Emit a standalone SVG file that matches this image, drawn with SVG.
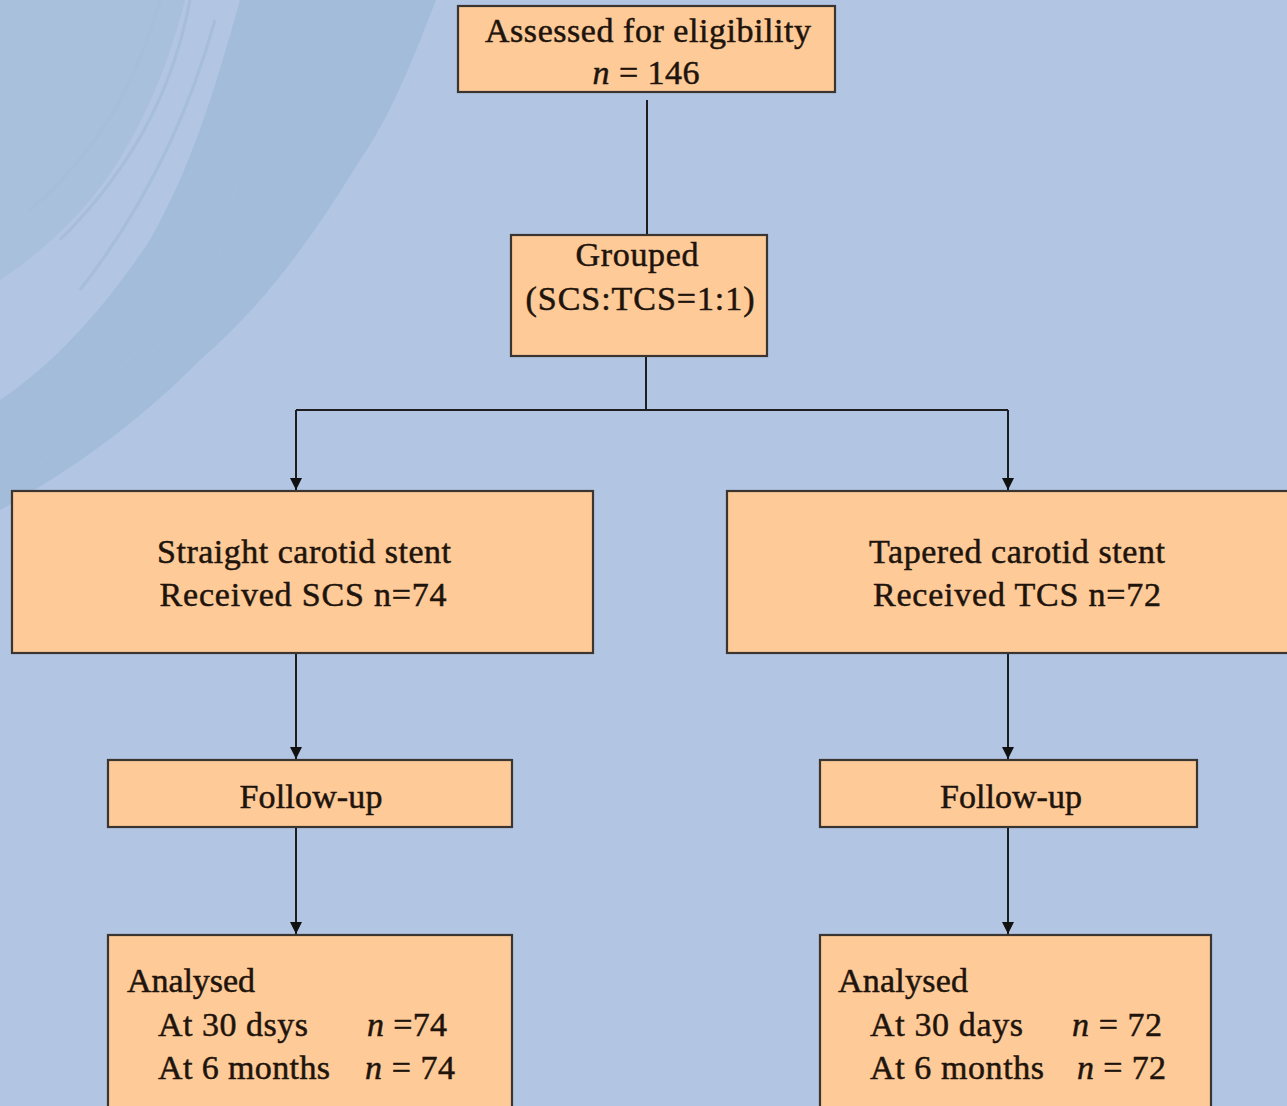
<svg xmlns="http://www.w3.org/2000/svg" width="1287" height="1106" viewBox="0 0 1287 1106">
<defs>
<style>
.box{fill:#FDCA98;stroke:#3a3530;stroke-width:2.2}
.t{font-family:'Liberation Serif','Times New Roman',serif;font-size:34px;fill:#1e140c;stroke:#1e140c;stroke-width:0.5}
.c{text-anchor:middle}
.i{font-style:italic}
.ln{fill:none;stroke:#1e1e22;stroke-width:2}
</style>
<marker id="ah" viewBox="0 0 10 10" refX="10" refY="5" markerWidth="12" markerHeight="12" markerUnits="userSpaceOnUse" orient="auto">
<path d="M0,0 L10,5 L0,10 Z" fill="#111"/>
</marker>
</defs>
<rect x="0" y="0" width="1287" height="1106" fill="#B2C5E3"/>
<g id="background-brush">
<path d="M240,0 L436,0 C420,40 395,110 360,160 C320,225 270,300 200,360 C150,410 90,460 0,510 L0,400 C60,360 110,300 150,240 C190,170 215,90 240,0 Z" fill="#A2BCD9"/>
<path d="M0,0 L185,0 C170,60 140,140 90,200 C60,235 30,260 0,280 Z" fill="#A8C0DC"/>
<g fill="none" stroke="#A5BEDA" stroke-width="3" opacity="0.9">
<path d="M190,0 C175,80 140,160 60,240"/>
<path d="M160,0 C140,70 110,140 30,210"/>
<path d="M215,20 C190,110 150,200 80,290"/>
<path d="M250,150 C220,250 150,350 40,450"/>
<path d="M230,230 C190,320 120,400 20,480"/>
</g>
</g>
<g id="connectors">
<line class="ln" x1="647" y1="100" x2="647" y2="235"/>
<line class="ln" x1="646" y1="357" x2="646" y2="410"/>
<polyline class="ln" points="296,410 1008,410"/>
<line class="ln" x1="296" y1="410" x2="296" y2="490" marker-end="url(#ah)"/>
<line class="ln" x1="1008" y1="410" x2="1008" y2="490" marker-end="url(#ah)"/>
<line class="ln" x1="296" y1="654" x2="296" y2="759" marker-end="url(#ah)"/>
<line class="ln" x1="1008" y1="654" x2="1008" y2="759" marker-end="url(#ah)"/>
<line class="ln" x1="296" y1="828" x2="296" y2="934" marker-end="url(#ah)"/>
<line class="ln" x1="1008" y1="828" x2="1008" y2="934" marker-end="url(#ah)"/>
</g>
<g id="n-assessed">
<rect class="box" x="458" y="6" width="377" height="86"/>
<text class="t c" x="648" y="42" textLength="326">Assessed for eligibility</text>
<text class="t c" x="646" y="84" textLength="107"><tspan class="i">n</tspan> = 146</text>
</g>
<g id="n-grouped">
<rect class="box" x="511" y="235" width="256" height="121"/>
<text class="t c" x="637" y="266" textLength="123">Grouped</text>
<text class="t c" x="640" y="310" textLength="229">(SCS:TCS=1:1)</text>
</g>
<g id="n-scs">
<rect class="box" x="12" y="491" width="581" height="162"/>
<text class="t c" x="304" y="563" textLength="294">Straight carotid stent</text>
<text class="t c" x="303" y="606" textLength="287">Received SCS n=74</text>
</g>
<g id="n-tcs">
<rect class="box" x="727" y="491" width="565" height="162"/>
<text class="t c" x="1017" y="563" textLength="296">Tapered carotid stent</text>
<text class="t c" x="1017" y="606" textLength="288">Received TCS n=72</text>
</g>
<g id="n-follow-left">
<rect class="box" x="108" y="760" width="404" height="67"/>
<text class="t c" x="311" y="808" textLength="143">Follow-up</text>
</g>
<g id="n-follow-right">
<rect class="box" x="820" y="760" width="377" height="67"/>
<text class="t c" x="1011" y="808" textLength="142">Follow-up</text>
</g>
<g id="n-analysed-left">
<rect class="box" x="108" y="935" width="404" height="190"/>
<text class="t" x="127" y="992" textLength="128">Analysed</text>
<text class="t" x="158" y="1036" textLength="150">At 30 dsys</text>
<text class="t" x="367" y="1036" textLength="80"><tspan class="i">n</tspan> =74</text>
<text class="t" x="158" y="1079" textLength="172">At 6 months</text>
<text class="t" x="365" y="1079" textLength="90"><tspan class="i">n</tspan> = 74</text>
</g>
<g id="n-analysed-right">
<rect class="box" x="820" y="935" width="391" height="190"/>
<text class="t" x="838" y="992" textLength="130">Analysed</text>
<text class="t" x="870" y="1036" textLength="153">At 30 days</text>
<text class="t" x="1072" y="1036" textLength="90"><tspan class="i">n</tspan> = 72</text>
<text class="t" x="870" y="1079" textLength="174">At 6 months</text>
<text class="t" x="1077" y="1079" textLength="89"><tspan class="i">n</tspan> = 72</text>
</g>
</svg>
